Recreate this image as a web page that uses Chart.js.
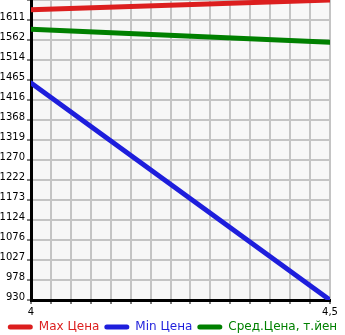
<!DOCTYPE html>
<html><head><meta charset="utf-8">
<script src="https://cdn.jsdelivr.net/npm/chart.js@4"></script>
<style>html,body{margin:0;padding:0;background:#fff}#wrap{width:345px;height:335px}</style>
</head><body><div id="wrap"><canvas id="c" width="345" height="335"></canvas></div>
<script>
const xValues = [4, 4.5];
const maxPrice = [1636, 1660];
const minPrice = [1458, 930];
const avgPrice = [1589, 1557];
const seriesNames = ['Max Цена', 'Min Цена', 'Сред.Цена, т.йен'];
const seriesColors = ['#dc1e1e', '#1e1edc', '#008000'];
const yMin = 930, yMax = 1660, yIntervals = 15;
const xMin = 4, xMax = 4.5, xIntervals = 15;
const xTickLabels = {4: '4', 4.5: '4,5'};

const mk = (vals) => vals.map((v, i) => ({x: xValues[i], y: v}));
const bgPlugin = {
  id: 'bg',
  beforeDraw(chart) {
    const {ctx, chartArea: a} = chart;
    ctx.save(); ctx.fillStyle = '#f7f7f7';
    ctx.fillRect(a.left, a.top, a.right - a.left, a.bottom - a.top);
    ctx.restore();
  }
};
const ds = [maxPrice, minPrice, avgPrice].map((vals, i) => ({
  label: seriesNames[i], data: mk(vals), borderColor: seriesColors[i],
  backgroundColor: seriesColors[i], borderWidth: 5, pointRadius: 0,
  borderCapStyle: 'round', tension: 0
}));
new Chart(document.getElementById('c'), {
  type: 'line',
  data: {datasets: ds},
  plugins: [bgPlugin],
  options: {
    responsive: false, animation: false,
    layout: {padding: {left: 0, right: 0, top: 0, bottom: -8}},
    plugins: {
      tooltip: {enabled: false},
      legend: {
        position: 'bottom',
        labels: {
          font: {family: 'DejaVu Sans', size: 12},
          boxWidth: 25, boxHeight: 5, padding: 5, useBorderRadius: true, borderRadius: 2.5,
          generateLabels(chart) {
            return chart.data.datasets.map((d, i) => ({
              text: d.label, fillStyle: d.borderColor, strokeStyle: d.borderColor,
              fontColor: d.borderColor, lineWidth: 0, datasetIndex: i, hidden: false,
              borderRadius: 2.5
            }));
          }
        }
      }
    },
    scales: {
      x: {
        type: 'linear', min: xMin, max: xMax,
        afterBuildTicks(s) {
          const t = [];
          for (let i = 0; i <= xIntervals; i++) t.push({value: xMin + (xMax - xMin) * i / xIntervals});
          s.ticks = t;
        },
        afterFit(s) { s.height = 16; s.paddingLeft = 0; s.paddingRight = 0; },
        ticks: {
          autoSkip: false, maxRotation: 0, padding: 2, color: '#000',
          font: {family: 'DejaVu Sans', size: 10},
          callback(v, i, arr) { if (i === 0) return xTickLabels[4]; if (i === arr.length - 1) return xTickLabels[4.5]; return ''; }
        },
        grid: {color: '#c4c4c4', lineWidth: 2, tickColor: '#000', tickLength: 4, tickWidth: 1},
        border: {display: true, color: '#000', width: 3}
      },
      y: {
        min: yMin, max: yMax,
        afterBuildTicks(s) {
          const t = [];
          for (let i = 0; i <= yIntervals; i++) t.push({value: yMin + (yMax - yMin) * i / yIntervals});
          s.ticks = t;
        },
        afterFit(s) { s.width = 31; s.paddingTop = 0; s.paddingBottom = 0; },
        ticks: {
          autoSkip: false, padding: 2, color: '#000', labelOffset: -3,
          font: {family: 'DejaVu Sans', size: 10},
          callback(v, i, arr) { return i === arr.length - 1 ? '' : String(Math.floor(v + 1e-6)); }
        },
        grid: {color: '#c4c4c4', lineWidth: 2, tickColor: '#000', tickLength: 4, tickWidth: 1},
        border: {display: true, color: '#000', width: 3}
      },
      yRight: {
        position: 'right', min: yMin, max: yMax,
        afterFit(s) { s.width = 15; s.paddingTop = 0; s.paddingBottom = 0; },
        ticks: {display: false},
        grid: {display: false, drawTicks: false},
        border: {display: false}
      }
    }
  }
});
</script></body></html>
